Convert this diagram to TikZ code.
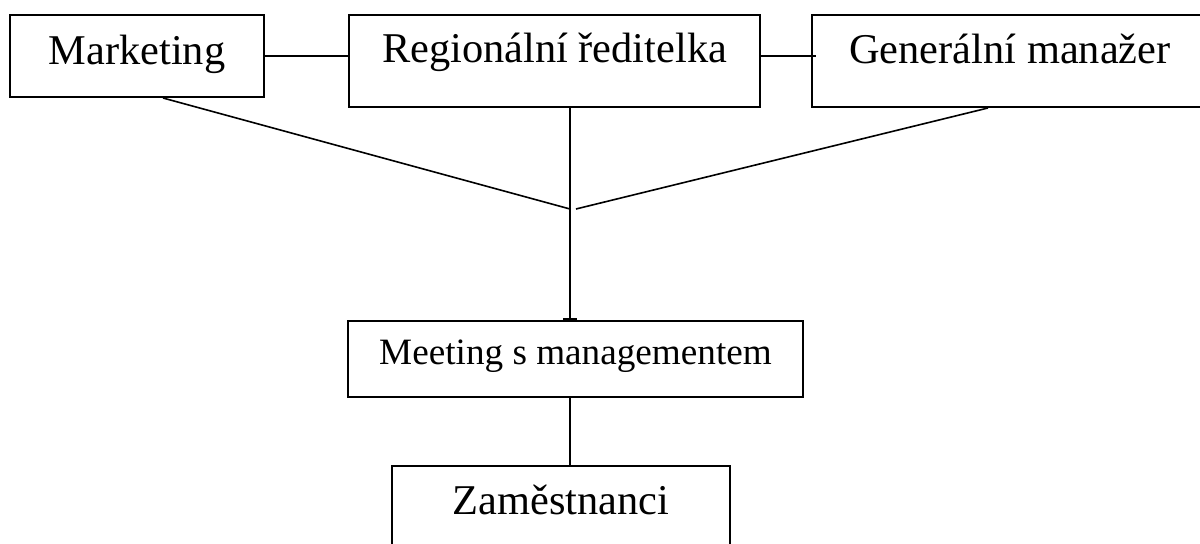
\documentclass[tikz,border=0pt]{standalone}
\usepackage{fontspec}
\setmainfont{Liberation Serif}
\usepackage{tikz}
\usetikzlibrary{positioning}
\usetikzlibrary{arrows.meta}
\usetikzlibrary{calc}
\tikzstyle{unit}=[rectangle,draw,line width=1pt,inner sep=0pt,align=center,font=\fontsize{21.2}{25}\selectfont]
\tikzstyle{smallunit}=[unit,font=\fontsize{18.6}{22}\selectfont]
\tikzstyle{link}=[line width=0.8pt]

\begin{document}
\begin{tikzpicture}[x=0.5pt,y=-0.5pt]

   \useasboundingbox (0,0) rectangle (1200,544);

%  top row
   \node[unit,minimum width=127pt,text height=25pt,text depth=16pt] (mkt) at (137,56) {Marketing};
   \node[unit,minimum width=205.5pt,text height=24pt,text depth=22pt] (reg) at (554.5,61) {Regionální ředitelka};
   \node[unit,minimum width=198pt,text height=24.5pt,text depth=21.5pt] (gen) at (1010,61) {Generální manažer};

%  lower boxes
   \node[smallunit,minimum width=227.5pt,text height=22pt,text depth=16pt] (meet) at (575.5,359) {Meeting s managementem};
   \node[unit,minimum width=169pt,text height=24.5pt,text depth=21.5pt] (emp) at (561,512) {Zaměstnanci};

   \coordinate (hub) at (570,209);
   \coordinate (hubr) at (576,209);

   \draw[link] (mkt.east) -- (mkt.east -| reg.west);
   \draw[link] (reg.east |- mkt.east) -- ($(gen.west |- mkt.east)+(5,0)$);

   \draw[link] ([xshift=13pt]mkt.south) -- (hub);
   \draw[link] ([xshift=-11pt]gen.south) -- (hubr);
   \draw[link] (reg.south -| hub) -- (hub);
   \draw[line width=1.2pt,-{Bar[width=7pt,line width=1.2pt]}] (hub) -- (hub |- meet.north);

   \draw[link] (meet.south -| hub) -- (emp.north -| hub);

\end{tikzpicture}
\end{document}
